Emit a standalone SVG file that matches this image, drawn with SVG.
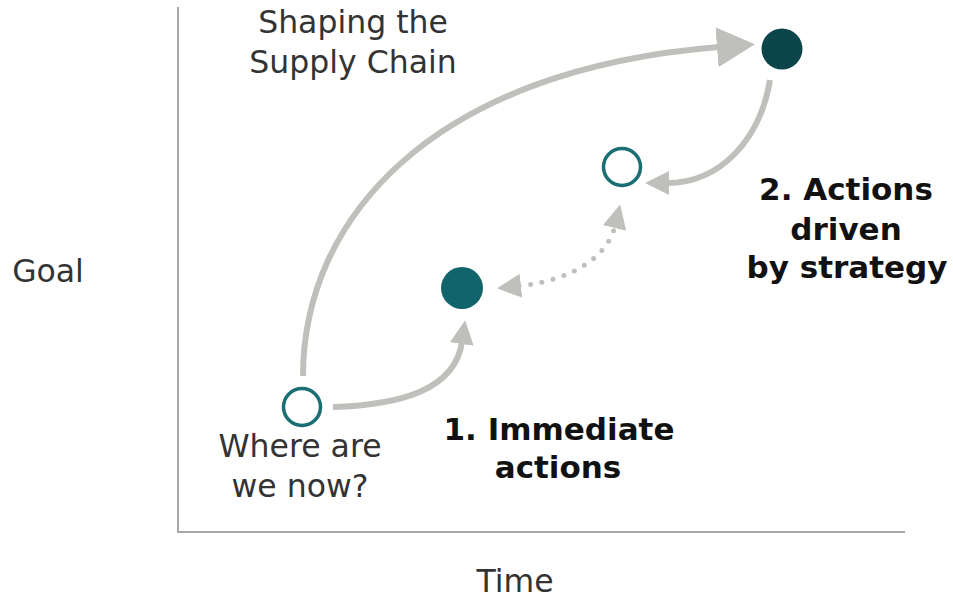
<svg xmlns="http://www.w3.org/2000/svg" width="953" height="598" viewBox="0 0 953 598">
<style>
.t{font-family:"DejaVu Sans",Verdana,sans-serif;font-size:31.5px;fill:#333;text-anchor:middle}
.b{font-family:"DejaVu Sans",Verdana,sans-serif;font-size:31px;font-weight:bold;fill:#111;text-anchor:middle}
.ax{stroke:#a8a8a8;stroke-width:2;fill:none}
.c{stroke:#bfbfbb;stroke-width:6;fill:none}
.d{stroke:#bfbfbb;stroke-width:5;fill:none;stroke-linecap:round;stroke-dasharray:0 11.5}
.open{fill:#fff;stroke:#1b6e74;stroke-width:3.5}
</style>
<defs>
<marker id="ah" markerUnits="userSpaceOnUse" viewBox="0 0 24 24" markerWidth="24" markerHeight="24" refX="2" refY="12" orient="auto-start-reverse"><path d="M0,0 L24,12 L0,24 z" fill="#bfbfbb"/></marker>
<marker id="ahb" markerUnits="userSpaceOnUse" viewBox="0 0 38 40" markerWidth="38" markerHeight="40" refX="2" refY="20" orient="auto"><path d="M0,0 L38,20 L0,40 z" fill="#bfbfbb"/></marker>
</defs>
<g id="axes">
<path class="ax" d="M178,7 L178,532 L905,532"/>
</g>
<g id="connectors">
<path class="c" d="M333,407 C400,405 455,390 462,342" marker-end="url(#ah)"/>
<path class="c" d="M303,376 C303,220 430,70 719,47" marker-end="url(#ahb)"/>
<path class="c" d="M770,80 C760,140 720,183 667,183" marker-end="url(#ah)"/>
<path class="d" d="M519,286 C575,280 608,255 615,226" marker-start="url(#ah)" marker-end="url(#ah)"/>
</g>
<g id="n-start"><circle class="open" cx="302" cy="407" r="18.5"/></g>
<g id="n-immediate"><circle cx="462" cy="288" r="21" fill="#11646b"/></g>
<g id="n-mid"><circle class="open" cx="622" cy="167" r="18.5"/></g>
<g id="n-goal"><circle cx="782" cy="49" r="20.5" fill="#0b4549"/></g>
<g id="labels">
<text class="t" x="353" y="33">Shaping the</text>
<text class="t" x="353" y="73">Supply Chain</text>
<text class="t" x="300" y="457">Where are</text>
<text class="t" x="300" y="497">we now?</text>
<text class="t" x="48" y="282">Goal</text>
<text class="t" x="515" y="592">Time</text>
<text class="b" x="559" y="440">1. Immediate</text>
<text class="b" x="558" y="478">actions</text>
<text class="b" x="846" y="200">2. Actions</text>
<text class="b" x="846" y="240">driven</text>
<text class="b" x="847" y="278">by strategy</text>
</g>
</svg>
